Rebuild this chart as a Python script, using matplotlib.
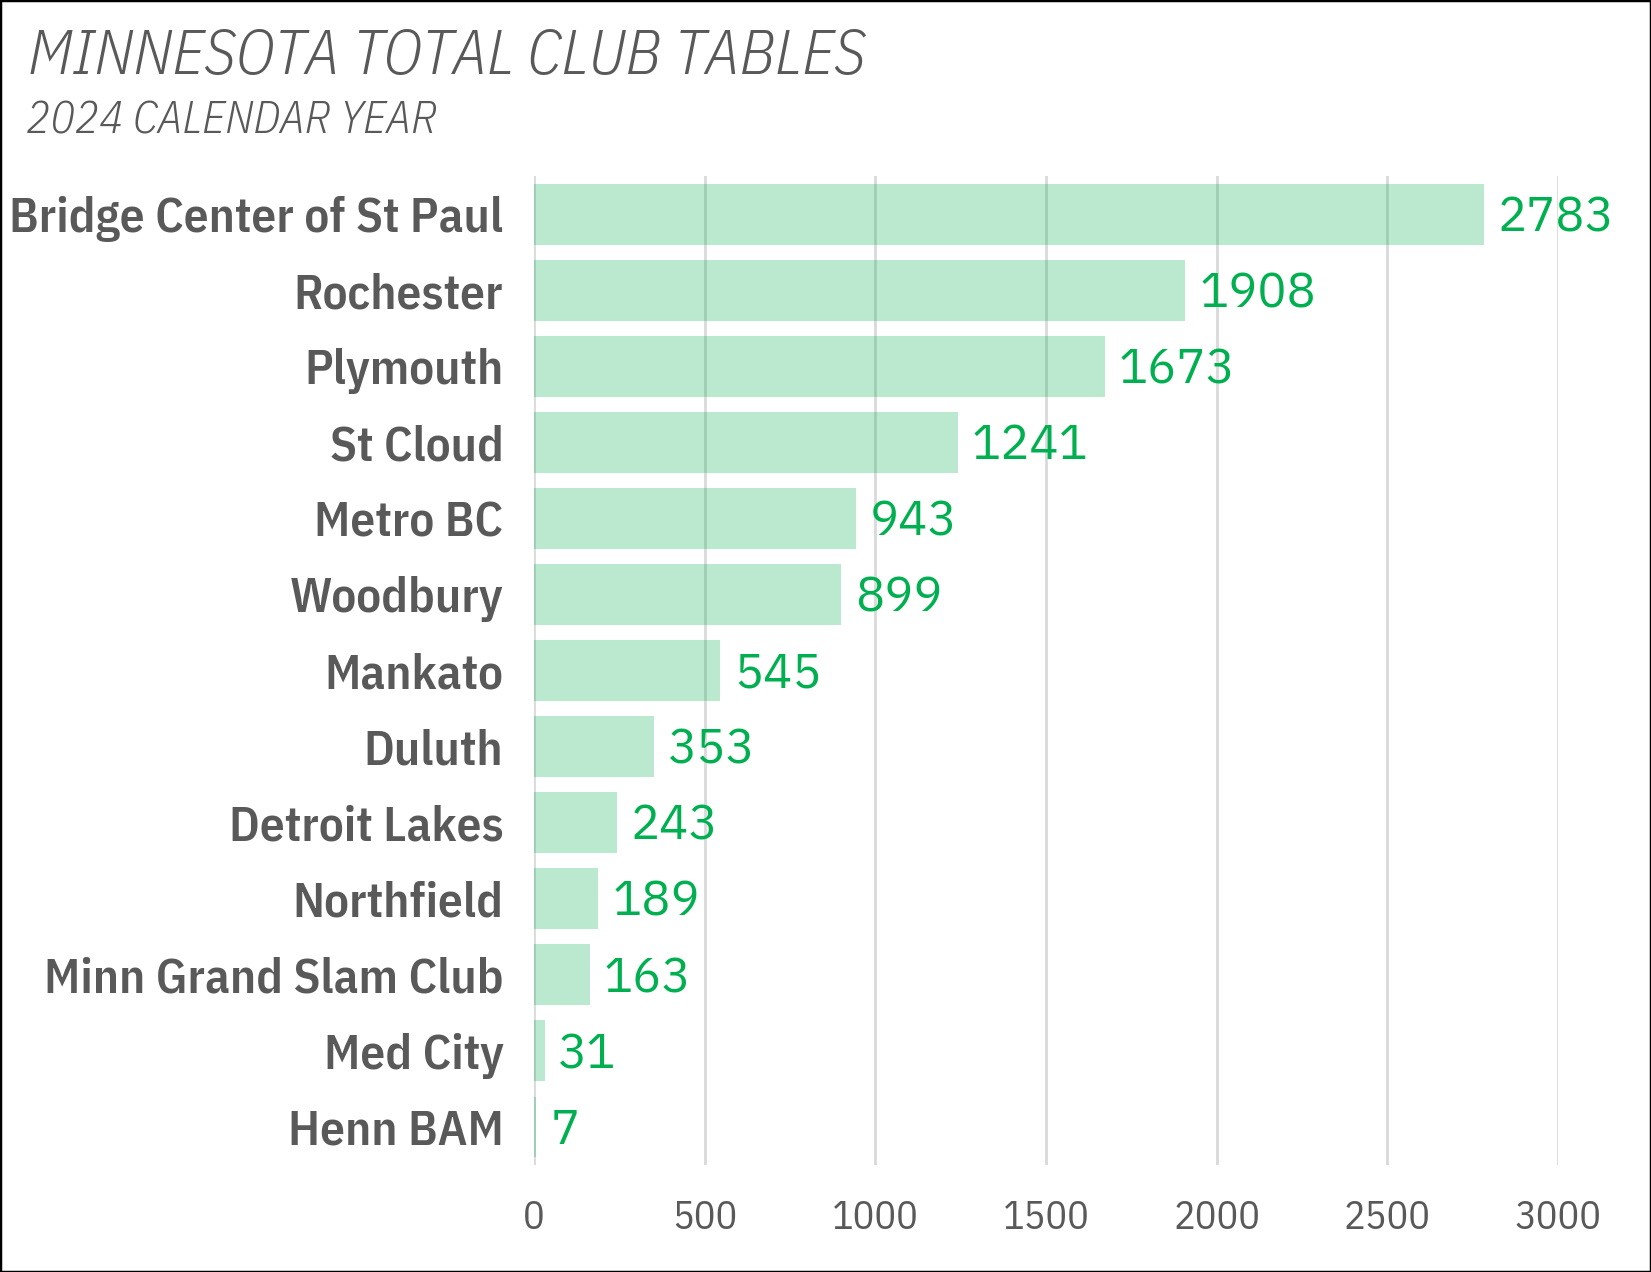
import matplotlib
matplotlib.use("Agg")
import matplotlib.pyplot as plt
from matplotlib.patches import Rectangle

clubs = ["Bridge Center of St Paul", "Rochester", "Plymouth", "St Cloud", "Metro BC",
         "Woodbury", "Mankato", "Duluth", "Detroit Lakes", "Northfield",
         "Minn Grand Slam Club", "Med City", "Henn BAM"]
tables = [2783, 1908, 1673, 1241, 943, 899, 545, 353, 243, 189, 163, 31, 7]
xticks = [0, 500, 1000, 1500, 2000, 2500, 3000]

title = "MINNESOTA TOTAL CLUB TABLES"
subtitle = "2024 CALENDAR YEAR"

GREY = "#595959"
GREEN = "#00B050"
NARROW = ["IBM Plex Sans Condensed", "Liberation Sans", "DejaVu Sans"]
REG = ["IBM Plex Sans", "Liberation Sans", "DejaVu Sans"]

fig = plt.figure(figsize=(16.51, 12.72), dpi=100)
ax = fig.add_axes([0.3234, 0.0841, 0.9437 - 0.3234, 0.8616 - 0.0841])

ypos = list(range(len(clubs)))
ax.barh(ypos, tables, height=0.8, color=GREEN, alpha=0.27, zorder=2)
for y, v in zip(ypos, tables):
    ax.annotate(str(v), (v, y), xytext=(10, -3), textcoords="offset points",
                va="center", ha="left", color=GREEN, fontsize=35,
                family=REG, annotation_clip=False)

ax.set_xlim(0, 3000)
ax.set_ylim(len(clubs) - 0.5, -0.5)
ax.set_xticks(xticks)
ax.set_xticklabels([str(t) for t in xticks], fontsize=29, color=GREY, family=NARROW)
ax.set_yticks(ypos)
ax.set_yticklabels(clubs, fontsize=35.5, color=GREY, family=NARROW, fontweight=600)
for lbl in ax.get_yticklabels():
    lbl.set_verticalalignment("center_baseline")
ax.tick_params(axis="both", length=0)
ax.tick_params(axis="x", pad=25)
ax.tick_params(axis="y", pad=22)
for s in ax.spines.values():
    s.set_visible(False)
ax.grid(axis="x", color="#D9D9D9", linewidth=2, zorder=0)
ax.set_axisbelow(True)

fig.text(0.017, 0.942, title, fontsize=45, color=GREY, family=NARROW,
         style="italic", fontweight=300, ha="left", va="baseline")
fig.text(0.016, 0.8947, subtitle, fontsize=32.5, color=GREY, family=NARROW,
         style="italic", fontweight=300, ha="left", va="baseline")

fig.patches.append(Rectangle((0, 0), 1, 1, transform=fig.transFigure,
                             fill=False, edgecolor="black", linewidth=2.5))

fig.savefig("out.png", dpi=100)
